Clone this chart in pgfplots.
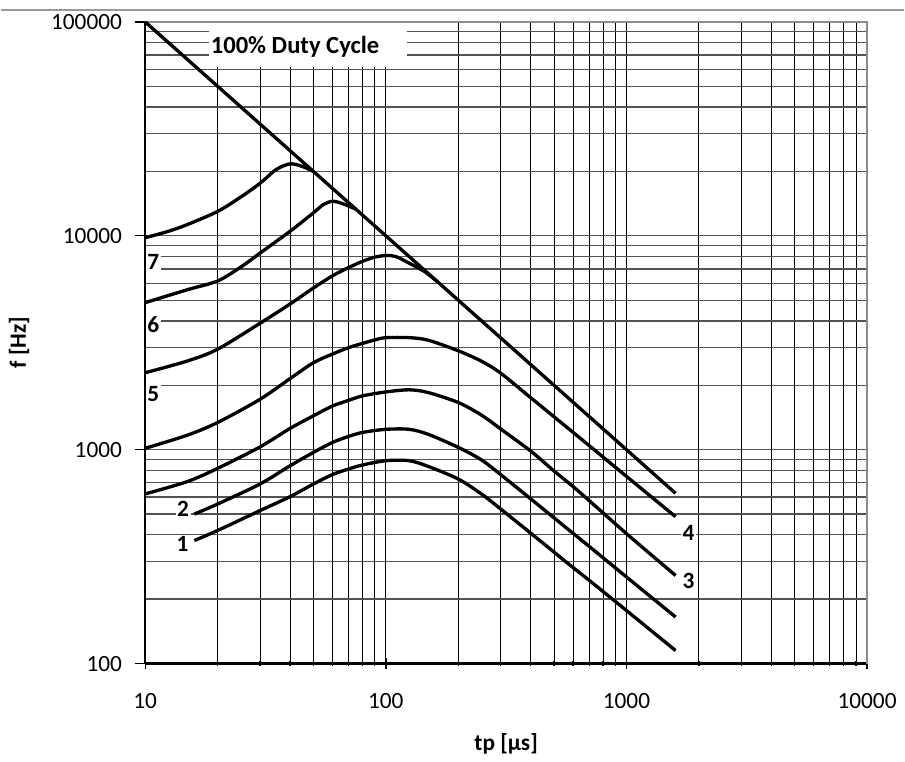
\documentclass[border=0pt]{standalone}
\usepackage{fontspec}
\setmainfont{Carlito}
\usepackage{pgfplots}
\pgfplotsset{compat=1.18}
\begin{document}
\begin{tikzpicture}
\begin{axis}[
  name=main,
  scale only axis, width=542.6pt, height=482.25pt,
  xmode=log, ymode=log,
  xmin=10, xmax=10000, ymin=100, ymax=100000,
  log ticks with fixed point,
  /pgf/number format/1000 sep={},
  /pgf/number format/assume math mode=true,
  xtick={10,100,1000,10000}, ytick={100,1000,10000,100000},
  grid=both,
  major x grid style={black, line width=0.75pt},
  minor x grid style={black, line width=0.75pt},
  major y grid style={black!68, line width=1pt},
  minor y grid style={black!68, line width=1pt},
  axis x line*=bottom, axis y line*=left,
  axis line style={black, line width=1.6pt, -},
  xtick align=center, ytick align=outside,
  major tick length=8pt, minor tick length=4pt,
  tick style={black, line width=1pt},
  minor y tick style={draw=none},
  ticklabel style={font=\fontsize{17.5}{20}\selectfont},
  xticklabel style={yshift=-15pt},
  yticklabel style={xshift=-6pt},
  xlabel={\bfseries tp [µs]},
  ylabel={\bfseries f [Hz]},
  label style={font=\fontsize{17.5}{20}\selectfont},
  xlabel style={at={(axis description cs:0.5,-0.1244)}, anchor=center},
  ylabel style={at={(axis description cs:-0.1748,0.5)}, anchor=center},
  clip=false,
]
% frame (top and right)
\draw[black!45, line width=1.5pt] (rel axis cs:0,1) -- (rel axis cs:1,1) -- (rel axis cs:1,0);
% label box
\fill[white] (rel axis cs:0.0878,0.998) rectangle (rel axis cs:0.3628,0.930);
\node[anchor=west, font=\fontsize{18.5}{21}\selectfont\bfseries, inner sep=0pt] at (rel axis cs:0.0905,0.9611) {100\% Duty Cycle};

% 100% duty cycle
\addplot[black, line width=2.5pt] coordinates {(10,100000) (1600,625)};
% curve 7
\addplot[black, line width=2.5pt, smooth] coordinates {
(10,9800) (12.5,10500) (15,11300) (20,13000) (25,15200) (30,17600) (35,20400) (40,21700) (45,21100) (50,20000)};
% curve 6
\addplot[black, line width=2.5pt, smooth] coordinates {
(10,4870) (15,5600) (20,6150) (25,7150) (30,8300) (40,10500) (50,12800) (55,14000) (60,14500) (66,14150) (75,13333)};
% curve 5
\addplot[black, line width=2.5pt, smooth] coordinates {
(10,2290) (15,2600) (20,2950) (30,3900) (40,4800) (50,5700) (60,6500) (70,7100) (80,7600) (90,7950) (100,8090) (110,8000) (125,7450) (145,6800) (165,6060)};
% curve 4
\addplot[black, line width=2.5pt, smooth] coordinates {
(10,1015) (15,1170) (20,1340) (30,1720) (40,2150) (50,2550) (60,2800) (70,3000) (80,3140) (90,3260) (100,3340) (125,3340) (150,3250) (200,2900) (250,2590) (300,2280) (400,1750) (500,1425) (700,1045) (1000,750) (1600,486)};
% curve 3
\addplot[black, line width=2.5pt, smooth] coordinates {
(10,621) (15,710) (20,818) (30,1030) (40,1257) (50,1440) (60,1600) (70,1700) (80,1785) (100,1862) (125,1905) (150,1850) (200,1662) (250,1450) (300,1250) (400,985) (500,795) (600,672) (700,578) (1000,405) (1600,258)};
% curve 2
\addplot[black, line width=2.5pt, smooth] coordinates {
(16,500) (20,557) (30,691) (40,841) (50,971) (60,1081) (70,1153) (80,1204) (100,1245) (125,1245) (150,1180) (200,1025) (250,895) (300,765) (400,589) (500,480) (600,406) (700,353) (1000,254) (1600,165)};
% curve 1
\addplot[black, line width=2.5pt, smooth] coordinates {
(16,376) (20,419) (30,519) (40,603) (50,691) (60,765) (70,812) (80,848) (100,888) (125,888) (150,835) (200,729) (250,620) (300,528) (400,407) (500,332) (600,281) (700,245) (1000,177) (1600,115)};

% curve numbers
\begin{scope}[every node/.style={fill=white, inner sep=1.2pt, font=\fontsize{17.5}{20}\selectfont\bfseries}]
\node at (rel axis cs:0.0110,0.6267) {7};
\node at (rel axis cs:0.0110,0.5288) {6};
\node at (rel axis cs:0.0110,0.4199) {5};
\node at (rel axis cs:0.0525,0.2403) {2};
\node at (rel axis cs:0.0518,0.1858) {1};
\node at (rel axis cs:0.7526,0.2030) {4};
\node at (rel axis cs:0.7526,0.1283) {3};
\end{scope}
\end{axis}
\draw[black!40, line width=1.5pt] ([xshift=-108.4pt,yshift=9pt]main.north west) -- ([xshift=27.75pt,yshift=9pt]main.north east);
\path ([xshift=-108.4pt,yshift=-73.5pt]main.south west) rectangle ([xshift=27.75pt,yshift=16.5pt]main.north east);
\end{tikzpicture}
\end{document}
